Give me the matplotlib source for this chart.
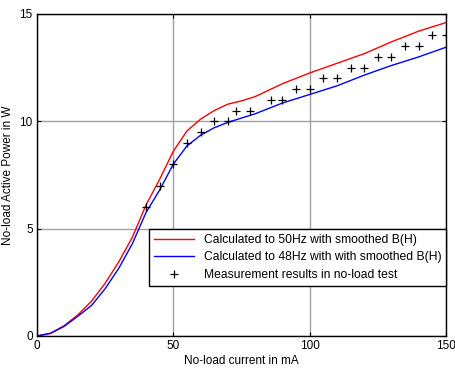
import matplotlib.pyplot as plt
import numpy as np

plt.rcParams["font.family"] = ["Liberation Sans", "DejaVu Sans"]

# calculated curves
calc_current = [0, 5, 10, 15, 20, 25, 30, 35, 40, 45, 50, 55, 60, 65, 70, 75, 80,
                90, 100, 110, 120, 130, 140, 150]
power_50hz = [0, 0.13, 0.48, 0.98, 1.62, 2.45, 3.45, 4.6, 6.1, 7.3, 8.6, 9.55, 10.1,
              10.5, 10.8, 10.95, 11.15, 11.75, 12.25, 12.7, 13.15, 13.7, 14.2, 14.6]
power_48hz = [0, 0.12, 0.45, 0.92, 1.42, 2.2, 3.15, 4.3, 5.75, 6.8, 8.0, 8.85, 9.35,
              9.7, 9.95, 10.15, 10.35, 10.85, 11.25, 11.65, 12.15, 12.6, 13.0, 13.45]

# measured points
meas_current = [40, 45, 50, 55, 60, 65, 70, 73, 78, 86, 90, 95, 100, 105, 110,
                115, 120, 125, 130, 135, 140, 145, 150]
meas_power = [6, 7, 8, 9, 9.5, 10, 10, 10.5, 10.5, 11, 11, 11.5, 11.5, 12, 12,
              12.5, 12.5, 13, 13, 13.5, 13.5, 14, 14]

fig = plt.figure(figsize=(4.56, 3.68), dpi=100)
ax = fig.add_axes([0.081, 0.087, 0.897, 0.875])

ax.plot(calc_current, power_50hz, color="#ff0000", lw=1.0,
        label="Calculated to 50Hz with smoothed B(H)")
ax.plot(calc_current, power_48hz, color="#0000ff", lw=1.0,
        label="Calculated to 48Hz with with smoothed B(H)")
ax.plot(meas_current, meas_power, "+", color="black", ms=5.5, mew=0.9, ls="none",
        label="Measurement results in no-load test")

ax.set_xlim(0, 150)
ax.set_ylim(0, 15)
ax.set_xticks([0, 50, 100, 150])
ax.set_yticks([0, 5, 10, 15])
ax.grid(True, color="#a0a0a0", lw=1.0)
ax.set_axisbelow(True)
ax.tick_params(direction="in", top=True, right=True, labelsize=8.5, length=3, pad=3)
for s in ax.spines.values():
    s.set_linewidth(1.0)

ax.set_xlabel("No-load current in mA", fontsize=8.5, labelpad=2)
ax.set_ylabel("No-load Active Power in W", fontsize=8.5, labelpad=4)

leg = ax.legend(loc="lower right", bbox_to_anchor=(1.0, 0.156), borderaxespad=0,
                fontsize=8.7, fancybox=False, edgecolor="black", framealpha=1,
                handlelength=3.3, borderpad=0.4, labelspacing=0.45)
leg.get_frame().set_linewidth(1.0)

fig.savefig("out.png", dpi=100)
